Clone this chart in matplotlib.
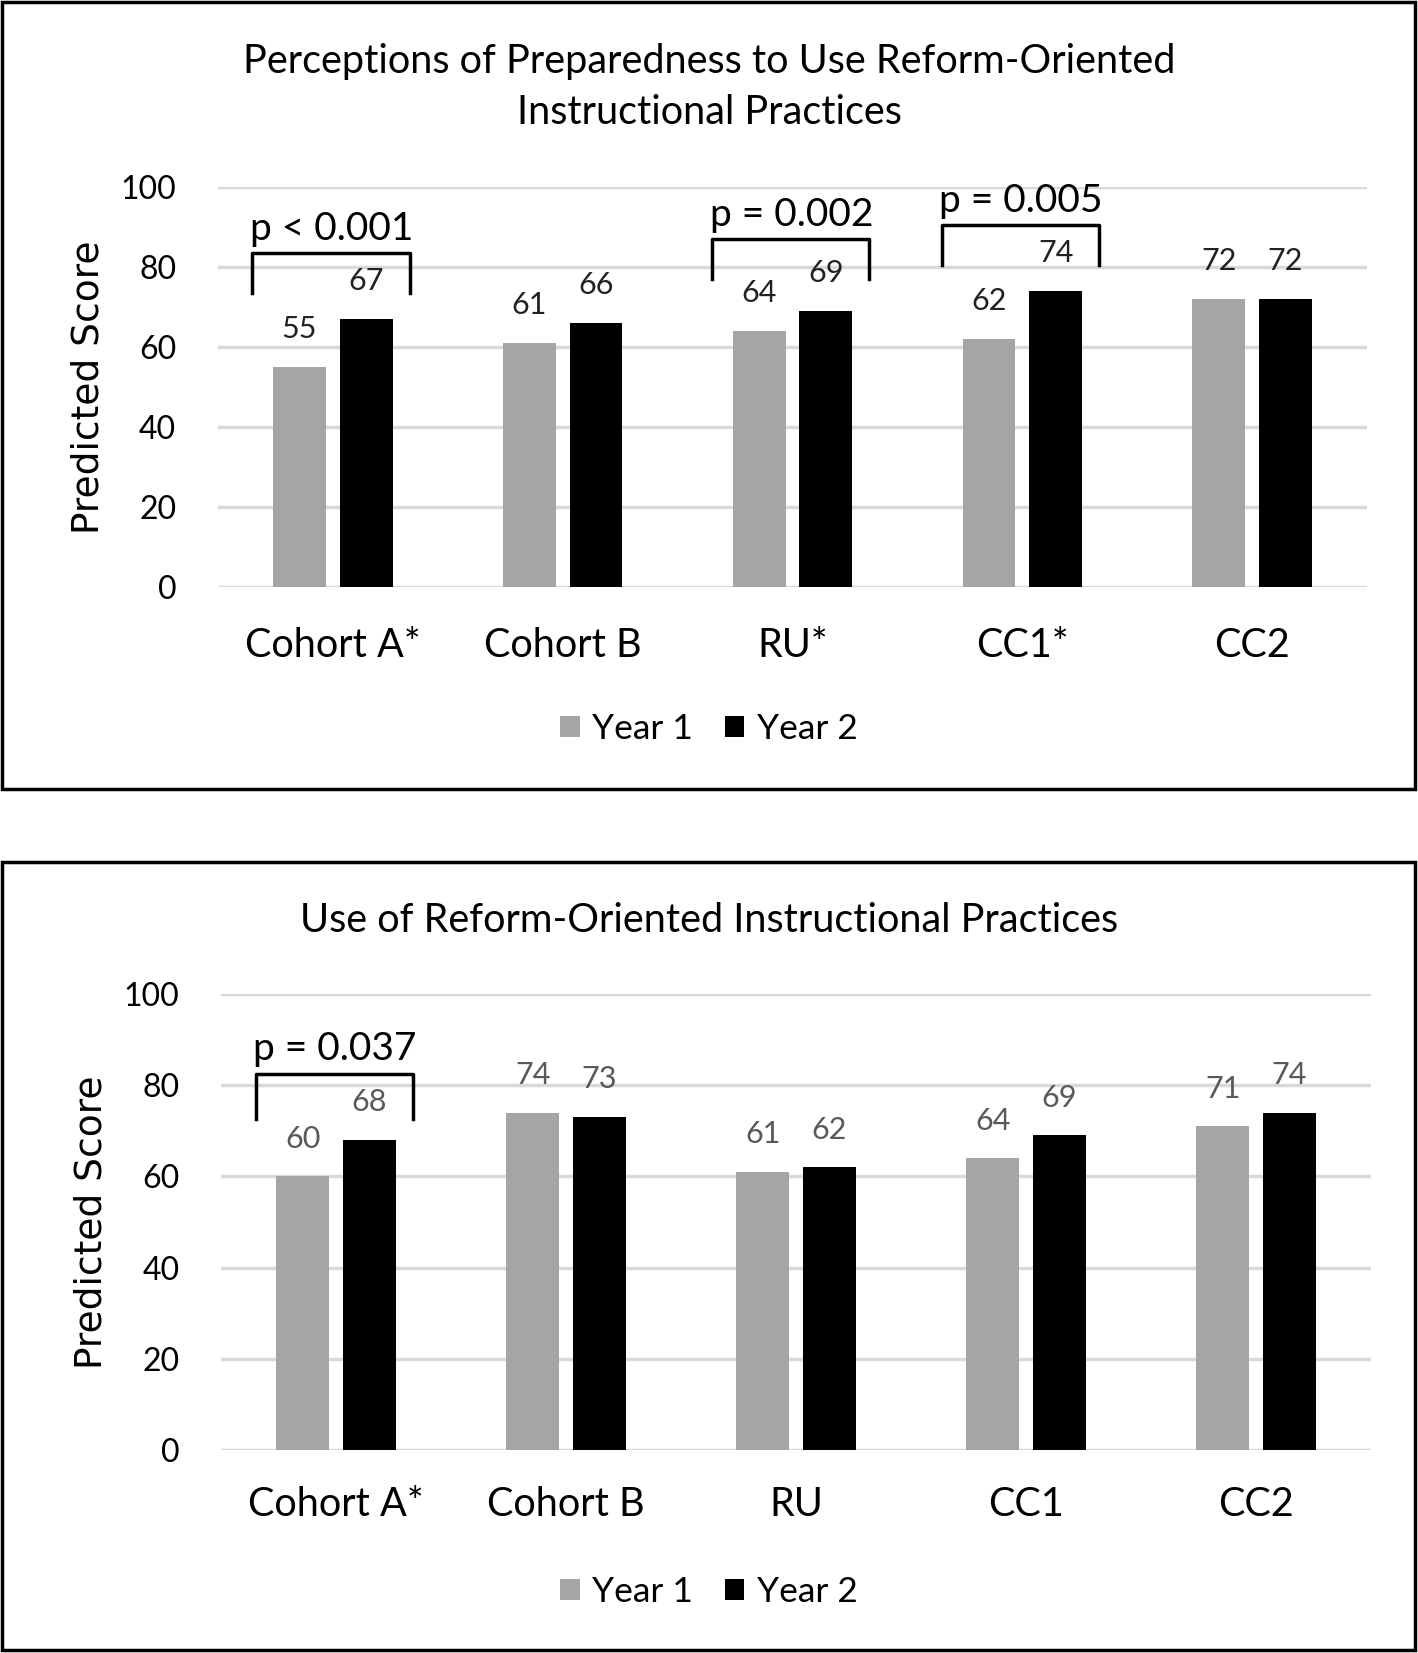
import matplotlib.pyplot as plt
from matplotlib.patches import Rectangle
import numpy as np

plt.rcParams['font.family'] = ['Lato', 'DejaVu Sans']

# Data
groups_top = ["Cohort A*", "Cohort B", "RU*", "CC1*", "CC2"]
year1_top = [55, 61, 64, 62, 72]
year2_top = [67, 66, 69, 74, 72]

groups_bot = ["Cohort A*", "Cohort B", "RU", "CC1", "CC2"]
year1_bot = [60, 74, 61, 64, 71]
year2_bot = [68, 73, 62, 69, 74]

# significance brackets: (group index, p text, bracket top value)
sig_top = [(0, "p < 0.001", 83.5), (2, "p = 0.002", 87), (3, "p = 0.005", 90.5)]
sig_bot = [(0, "p = 0.037", 82.5)]

yticks = [0, 20, 40, 60, 80, 100]

GRAY = "#a5a5a5"
BLACK = "#000000"
GRID = "#d9d9d9"

fig = plt.figure(figsize=(14.18, 16.53), dpi=100)


def draw_panel(ax, groups, y1, y2, sigs, label_color, pad):
    x = np.arange(len(groups))
    w = 0.23
    b1 = ax.bar(x - 0.145, y1, w, color=GRAY, label="Year 1", zorder=3)
    b2 = ax.bar(x + 0.145, y2, w, color=BLACK, label="Year 2", zorder=3)
    ax.bar_label(b1, padding=17, fontsize=22, color=label_color)
    ax.bar_label(b2, padding=17, fontsize=22, color=label_color)

    ax.set_xlim(-0.5, len(groups) - 0.5)
    ax.set_ylim(0, 100)
    ax.set_yticks(yticks)
    ax.yaxis.grid(True, color=GRID, linewidth=2.5, zorder=0)
    ax.set_axisbelow(True)
    for s in ax.spines.values():
        s.set_visible(False)
    ax.tick_params(axis='y', length=0, labelsize=23, pad=30)
    ax.tick_params(axis='x', length=0, labelsize=28.5, pad=pad)
    ax.set_xticks(x)
    ax.set_xticklabels(groups)
    ax.set_ylabel("Predicted Score", fontsize=27, family='DejaVu Sans', labelpad=10)

    for i, txt, top in sigs:
        left, right = i - 0.35, i + 0.335
        ax.plot([left, left, right, right], [top - 10, top, top, top - 10],
                color="black", linewidth=2.5, clip_on=False, zorder=4)
        ax.text(i - 0.005, top + 1.5, txt, ha='center', va='bottom', fontsize=28,
                zorder=5)


ax1 = fig.add_axes([0.1537, 0.6449, 0.8103, 0.2420])
draw_panel(ax1, groups_top, year1_top, year2_top, sig_top, "#222222", 29)
ax1.legend(loc='center', bbox_to_anchor=(0.5, 1 - 729 / 1653), bbox_transform=fig.transFigure,
           ncol=2, frameon=False, fontsize=25.5, handlelength=0.55, handleheight=0.55,
           handletextpad=0.35, columnspacing=0.9)

ax2 = fig.add_axes([0.1559, 0.1228, 0.8110, 0.2759])
draw_panel(ax2, groups_bot, year1_bot, year2_bot, sig_bot, "#595959", 26)
ax2.legend(loc='center', bbox_to_anchor=(0.5, 1 - 1592 / 1653), bbox_transform=fig.transFigure,
           ncol=2, frameon=False, fontsize=25.5, handlelength=0.55, handleheight=0.55,
           handletextpad=0.35, columnspacing=0.9)

fig.text(0.5, 1 - 61 / 1653, "Perceptions of Preparedness to Use Reform-Oriented",
         ha='center', va='center', fontsize=28.5)
fig.text(0.5, 1 - 113 / 1653, "Instructional Practices", ha='center', va='center', fontsize=28.5)
fig.text(0.5, 1 - 920 / 1653, "Use of Reform-Oriented Instructional Practices",
         ha='center', va='center', fontsize=28.5)

# panel borders
fig.patches.append(Rectangle((0.0014, 0.5227), 0.9965, 0.4761, transform=fig.transFigure,
                             fill=False, edgecolor='black', linewidth=2.5))
fig.patches.append(Rectangle((0.0014, 0.0018), 0.9965, 0.4767, transform=fig.transFigure,
                             fill=False, edgecolor='black', linewidth=2.5))

fig.savefig("out.png", dpi=100)
